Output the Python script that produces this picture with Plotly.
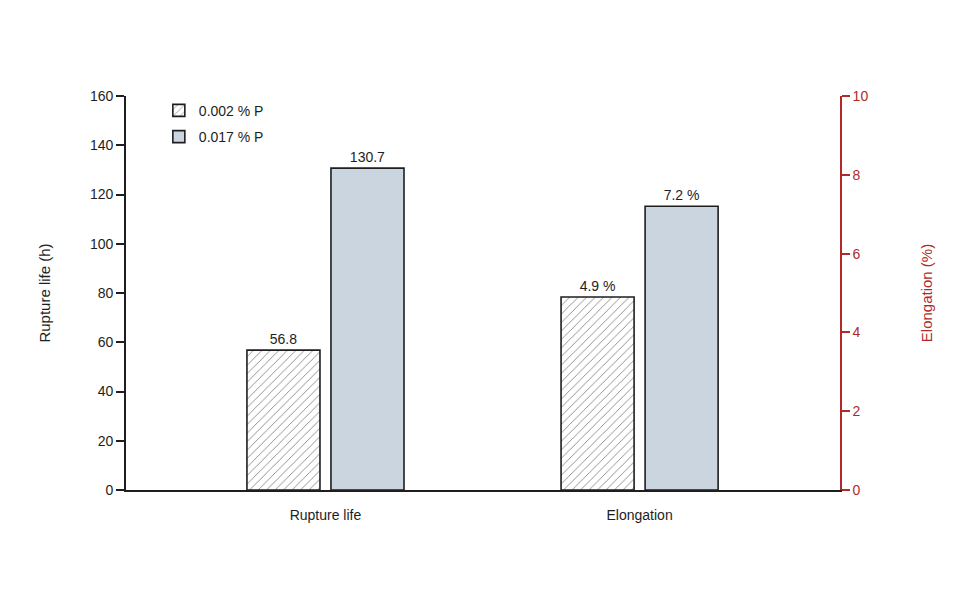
import plotly.graph_objects as go

categories = ["Rupture life", "Elongation"]
series_names = ["0.002 % P", "0.017 % P"]
rupture_life_h = [56.8, 130.7]      # 0.002 % P, 0.017 % P
elongation_pct = [4.9, 7.2]         # 0.002 % P, 0.017 % P
rupture_labels = ["56.8", "130.7"]
elong_labels = ["4.9 %", "7.2 %"]
left_ticks = [0, 20, 40, 60, 80, 100, 120, 140, 160]
right_ticks = [0, 2, 4, 6, 8, 10]

FONT = "Liberation Sans, Arial, sans-serif"
DARK = "#1e1e1e"
RED = "#b02a2a"
LIGHT = "#cbd5e0"
BW = 0.2325
offsets = [-0.25, 0.0175]

fig = go.Figure()

def marker(i):
    if i == 0:
        return dict(color="white", line=dict(color=DARK, width=1.6),
                    pattern=dict(shape="/", fgcolor="#000000", bgcolor="white", size=6, solidity=0.14))
    return dict(color=LIGHT, line=dict(color=DARK, width=1.6))

for i in range(2):
    fig.add_trace(go.Bar(
        x=[categories[0]], y=[rupture_life_h[i]], name=series_names[i],
        legendgroup=series_names[i], showlegend=True,
        offset=offsets[i], width=BW, marker=marker(i),
        text=[rupture_labels[i]], textposition="outside", cliponaxis=False,
        textfont=dict(size=14, color=DARK, family=FONT),
        xaxis="x", yaxis="y"))
    fig.add_trace(go.Bar(
        x=[categories[1]], y=[elongation_pct[i]], name=series_names[i],
        legendgroup=series_names[i], showlegend=False,
        offset=offsets[i], width=BW, marker=marker(i),
        text=[elong_labels[i]], textposition="outside", cliponaxis=False,
        textfont=dict(size=14, color=DARK, family=FONT),
        xaxis="x", yaxis="y2"))

fig.update_layout(
    width=960, height=600,
    margin=dict(l=126, r=120, t=96, b=110),
    paper_bgcolor="white", plot_bgcolor="white",
    font=dict(family=FONT, size=14, color=DARK),
    barmode="overlay",
    showlegend=True,
    legend=dict(x=0.046, y=1.003, xanchor="left", yanchor="top",
                bgcolor="rgba(0,0,0,0)", font=dict(size=14, color=DARK),
                tracegroupgap=5),
    xaxis=dict(type="category", range=[-0.635, 1.638],
               showline=True, linecolor=DARK, linewidth=1.6,
               ticks="", showgrid=False, zeroline=False, ticklabelstandoff=11,
               tickfont=dict(size=14, color=DARK)),
    yaxis=dict(range=[0, 160], tickvals=left_ticks,
               showline=True, linecolor=DARK, linewidth=1.6,
               ticks="outside", ticklen=8, tickwidth=1.6, tickcolor=DARK,
               showgrid=False, zeroline=False,
               tickfont=dict(size=14, color=DARK),
               title=dict(text="Rupture life (h)", font=dict(size=15, color=DARK), standoff=36)),
    yaxis2=dict(range=[0, 10], tickvals=right_ticks, overlaying="y", side="right",
                showline=True, linecolor=RED, linewidth=1.6,
                ticks="outside", ticklen=8, tickwidth=1.6, tickcolor=RED,
                showgrid=False, zeroline=False,
                tickfont=dict(size=14, color=RED),
                title=dict(text="Elongation (%)", font=dict(size=15, color=RED), standoff=54)),
)

fig.write_html("out.html")
